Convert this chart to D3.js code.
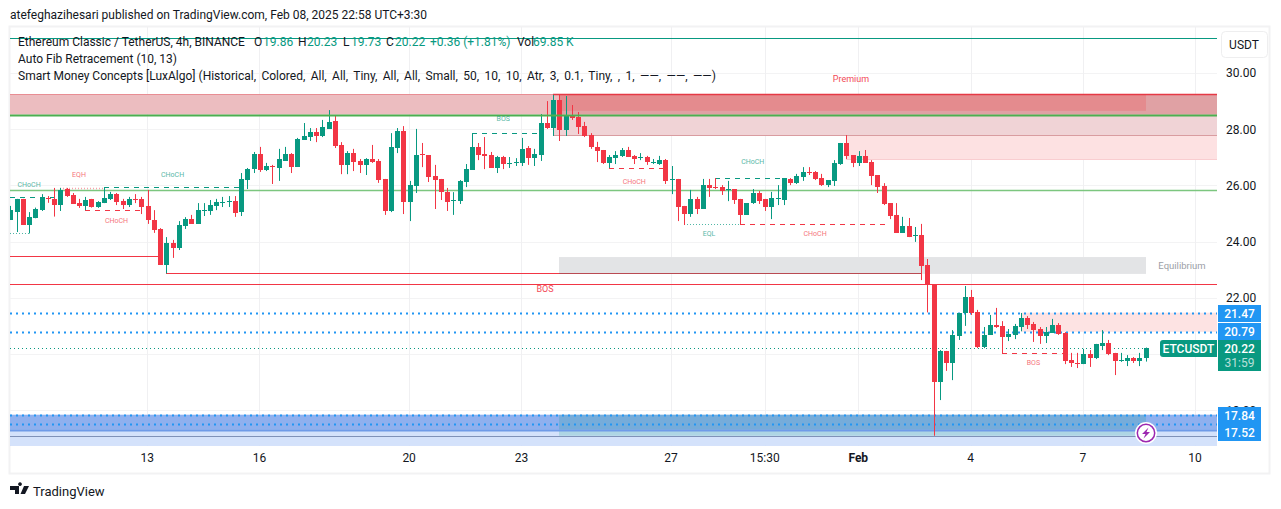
<!DOCTYPE html>
<html>
<head>
<meta charset="utf-8">
<script src="https://cdnjs.cloudflare.com/ajax/libs/d3/7.8.5/d3.min.js"></script>
<style>
  html, body { margin: 0; background: #fff; }
  svg { display: block; }
  text { font-family: Roboto, sans-serif; }
</style>
</head>
<body>
<div id="chart"></div>
<script>
// 4h candles, left to right
var opens = [24.77,25.04,25.52,24.59,24.84,25.11,25.56,25.52,25.30,25.87,25.66,25.37,25.27,25.52,25.23,25.37,25.52,25.69,25.44,25.30,25.52,25.52,25.27,24.77,24.45,23.17,23.95,23.77,24.55,24.80,24.63,25.10,25.09,25.27,25.39,25.42,25.44,25.05,26.19,26.58,27.12,26.55,26.69,26.62,26.87,27.12,26.66,27.62,27.72,27.90,27.76,28.01,28.29,27.44,26.73,27.15,26.87,26.73,26.94,26.87,26.23,25.09,27.33,27.94,25.41,25.98,27.12,27.08,26.33,26.23,25.76,25.44,25.44,26.12,26.55,27.37,27.12,27.08,26.62,27.01,26.76,26.80,26.80,27.33,26.97,27.08,28.22,28.04,29.04,27.97,28.47,28.43,28.11,27.79,27.37,27.26,26.80,26.97,27.05,27.26,27.05,26.99,27.01,26.81,26.76,26.90,26.20,26.23,25.27,24.98,25.52,25.16,26.01,25.93,25.94,25.85,25.87,25.52,24.95,25.37,25.73,25.52,25.23,25.53,25.48,26.23,26.08,26.30,26.48,26.48,26.26,26.01,26.16,26.76,27.51,27.08,26.80,27.05,26.83,26.37,25.98,25.37,24.95,24.31,24.55,24.21,24.23,23.17,22.48,19.00,20.11,19.68,20.64,21.46,22.03,21.49,20.25,20.68,21.03,21.00,20.60,20.68,20.96,21.28,21.07,20.89,20.64,20.75,21.03,20.75,19.79,19.68,19.64,20.00,19.86,20.28,20.39,20.04,19.76,19.75,19.86,19.75,19.86];
var highs = [25.27,25.52,25.52,25.05,25.21,25.69,25.62,25.91,25.91,25.91,25.73,25.52,25.59,25.52,25.44,25.93,25.77,25.73,25.52,25.59,25.69,25.59,25.84,25.12,24.48,24.16,24.06,24.73,24.87,24.95,25.37,25.37,25.48,25.52,25.59,25.62,25.62,26.44,26.62,27.19,27.37,26.80,26.73,27.30,27.37,27.15,27.69,28.22,28.04,28.04,28.33,28.68,28.50,27.54,27.22,27.30,26.94,26.97,27.44,26.94,26.23,27.86,28.04,28.11,26.16,28.01,27.51,27.08,26.73,26.23,25.91,25.76,26.19,26.76,27.86,27.51,27.72,27.19,27.05,27.05,27.01,26.97,27.69,27.40,27.30,28.54,29.00,29.22,29.22,29.18,28.86,28.61,28.26,27.86,27.55,27.26,27.08,27.22,27.33,27.37,27.08,27.15,27.05,26.94,27.05,26.94,26.69,26.23,25.27,25.84,25.59,26.23,26.23,26.26,26.01,26.16,25.87,25.52,25.37,25.87,25.80,25.52,25.77,26.01,26.25,26.26,26.41,26.65,26.65,26.51,26.41,26.19,26.90,27.51,27.79,27.08,27.22,27.26,26.90,26.37,26.08,25.37,25.37,24.88,24.84,24.52,24.63,23.38,22.48,20.14,20.11,20.85,21.46,22.42,22.28,21.57,20.96,21.39,21.64,21.17,20.89,21.07,21.46,21.35,21.14,20.96,20.96,21.25,21.10,20.78,20.04,20.04,20.18,20.14,20.36,20.85,20.50,20.04,20.04,19.96,19.89,20.04,20.23];
var lows = [24.77,24.34,24.59,24.29,24.83,25.09,25.38,24.89,25.09,25.59,25.34,25.20,25.12,25.21,25.20,25.37,25.48,25.30,25.16,25.23,25.37,24.98,24.63,24.31,23.17,22.87,23.42,23.70,24.45,24.63,24.63,24.91,24.95,25.12,25.23,25.23,24.88,24.91,25.87,26.44,26.48,26.51,26.05,26.16,26.87,26.44,26.66,27.62,27.58,27.54,27.72,28.01,27.33,26.40,26.40,26.51,26.44,26.37,26.80,26.09,24.95,25.05,27.15,24.98,24.73,25.73,26.65,26.12,25.16,25.48,25.09,24.95,25.34,25.94,26.55,26.90,26.58,26.62,26.44,26.58,26.62,26.69,26.69,26.73,26.69,26.87,28.01,27.76,27.58,27.76,28.33,27.83,27.72,27.30,26.83,26.76,26.62,26.76,27.01,27.01,26.76,26.90,26.73,26.76,26.73,26.05,25.69,24.73,24.59,24.88,24.98,25.16,25.59,25.87,25.66,25.44,25.34,24.59,24.95,25.34,25.34,25.09,24.80,25.30,25.30,26.01,26.05,26.16,26.37,26.19,25.98,25.94,25.98,26.73,26.94,26.65,26.69,26.80,26.01,25.73,25.30,24.80,24.31,24.31,24.16,23.99,22.63,21.48,17.09,18.36,19.40,19.07,20.50,21.00,21.39,20.21,20.21,20.68,20.93,20.02,20.46,20.53,20.81,20.89,20.43,20.36,20.39,20.75,20.68,19.64,19.54,19.50,19.64,19.54,19.82,20.14,19.96,19.25,19.72,19.57,19.68,19.57,19.73];
var closes = [25.12,25.52,24.59,24.89,25.16,25.55,25.52,25.30,25.84,25.62,25.34,25.27,25.48,25.23,25.41,25.55,25.69,25.41,25.30,25.52,25.49,25.23,24.77,24.41,23.17,23.95,23.77,24.59,24.80,24.63,25.12,25.12,25.30,25.41,25.41,25.44,25.02,26.23,26.58,27.12,26.55,26.69,26.67,26.94,27.12,26.66,27.65,27.76,27.90,27.76,28.08,28.26,27.40,26.73,27.15,26.83,26.73,26.94,26.83,26.19,25.09,27.37,27.94,25.41,26.01,27.08,27.09,26.30,26.19,25.76,25.41,25.48,26.16,26.58,27.37,27.08,27.05,26.62,27.01,26.76,26.80,26.83,27.30,26.97,27.12,28.22,28.04,29.04,27.97,28.47,28.40,28.08,27.76,27.37,27.22,26.80,27.01,27.08,27.26,27.01,26.94,27.01,26.83,26.83,26.90,26.16,26.23,25.23,24.98,25.52,25.16,26.01,25.91,25.91,25.80,25.87,25.48,24.95,25.37,25.73,25.44,25.23,25.55,25.55,26.25,26.08,26.33,26.48,26.45,26.23,26.01,26.19,26.80,27.51,27.05,26.80,27.05,26.80,26.33,25.94,25.34,24.91,24.31,24.55,24.16,24.23,23.13,22.48,19.00,20.11,19.68,20.68,21.46,22.03,21.46,20.25,20.68,21.03,20.96,20.60,20.71,21.00,21.28,21.03,20.85,20.64,20.78,21.03,20.71,19.75,19.68,19.66,20.00,19.86,20.36,20.39,20.00,19.75,19.79,19.86,19.75,19.86,20.22];

var priceTicks = [30, 28, 26, 24, 22, 20, 18];
var priceTickLabels = [30, 28, 26, 24, 22, 18];
var timeTickBars = [22, 40, 64, 82, 106, 121, 136, 154, 172, 190];
var timeTickLabels = ["13", "16", "20", "23", "27", "15:30", "Feb", "4", "7", "10"];

// zones: first bar, last bar, top price, bottom price (null = runs to the pane edge)
var pinkZones = [[null, null, 29.25, 28.52], [87, null, 28.52, 27.78], [134, null, 27.78, 26.94], [162, null, 21.47, 20.79]];
var darkZone = [88, 182, 29.25, 28.65];
var darkZoneRight = [182, null, 29.25, 28.52];
var equilibriumZone = [88, 182, 23.45, 22.85];
var demandZone = [null, null, 17.84, 17.30];
var demandZoneLow = [null, null, 17.30, 16.74];
var tealZone = [88, 182, 17.84, 17.09];

// levels: first bar, last bar, price
var redLevels = [[null, 24, 23.47], [25, 146, 22.87], [null, null, 22.48]];
var blueDotted = [21.47, 20.79, 17.84, 17.52];
var fibLevels = [25.84];
var dashedGreen = [[null, 7, 25.58], [15, 37, 25.93], [74, 85, 27.86], [113, 124, 26.25]];
var dashedRed = [[12, 21, 25.12], [96, 105, 26.62], [117, 141, 24.62], [159, 169, 20.02]];
var dottedGreen = [[null, 3, 24.29], [108, 117, 24.62]];
var dottedRed = [[8, 15, 25.91]];

// tiny marker labels: text, bar, price
var greenTags = [["CHoCH", 3, 25.95], ["CHoCH", 26, 26.3], ["BOS", 79, 28.28], ["CHoCH", 119, 26.75], ["EQL", 112, 24.2]];
var redTags = [["EQH", 11, 26.3], ["CHoCH", 17, 24.65], ["CHoCH", 100, 26.05], ["CHoCH", 129, 24.2], ["BOS", 164, 19.6]];

var width = 1281, height = 509;
var paneLeft = 10, paneRight = 1217, paneTop = 27, paneBottom = 445.6;
var GREEN = "#089981", RED = "#f23645", BLUE = "#2196f3";

var svg = d3.select("#chart").append("svg").attr("width", width).attr("height", height);
var x = d3.scaleLinear().domain([0, 182]).range([10.4, 1145.7]);
var y = d3.scaleLinear().domain([30, 18]).range([73, 410.2]);

function px(bar, edge) { return bar === null ? edge : Math.round(x(bar)); }
function py(p) { return Math.round(y(p)); }

svg.append("defs").append("clipPath").attr("id", "pane").append("rect")
  .attr("x", paneLeft).attr("y", paneTop).attr("width", paneRight - paneLeft).attr("height", paneBottom - paneTop);

// frame
svg.append("rect").attr("x", 9.5).attr("y", 26.5).attr("width", 1260).attr("height", 447)
  .attr("fill", "#fff").attr("stroke", "#f2f2f3").attr("stroke-width", 2);

var pane = svg.append("g").attr("clip-path", "url(#pane)");

// grid
pane.selectAll(".gh").data(priceTicks).enter().append("line")
  .attr("x1", paneLeft).attr("x2", paneRight)
  .attr("y1", function(d) { return py(d) + 0.5; }).attr("y2", function(d) { return py(d) + 0.5; })
  .attr("stroke", "#f3f3f4");
pane.selectAll(".gv").data(timeTickBars).enter().append("line")
  .attr("x1", function(d) { return Math.floor(x(d)) + 0.5; }).attr("x2", function(d) { return Math.floor(x(d)) + 0.5; })
  .attr("y1", paneTop).attr("y2", paneBottom)
  .attr("stroke", "#f0f0f2");

function zone(z, fill) {
  var x1 = px(z[0], paneLeft), x2 = px(z[1], paneRight);
  return pane.append("rect").attr("x", x1).attr("width", x2 - x1)
    .attr("y", y(z[2])).attr("height", y(z[3]) - y(z[2])).attr("fill", fill);
}
function level(l, color, w, dash) {
  var ly = py(l[2]) + 0.5;
  return pane.append("line").attr("x1", px(l[0], paneLeft)).attr("x2", px(l[1], paneRight))
    .attr("y1", ly).attr("y2", ly).attr("stroke", color).attr("stroke-width", w || 1)
    .attr("stroke-dasharray", dash || null);
}

// zones
zone(pinkZones[0], "#ecbdc0");
zone(pinkZones[1], "#f0d3d6");
zone(pinkZones[2], "#fde1e2");
zone(pinkZones[3], "#fde3e3");
zone(darkZone, "#e48b8e");
zone(darkZoneRight, "#e0a1a4");
zone([88, 182, 28.65, 28.52], "#e0a1a4");
zone(equilibriumZone, "#e3e4e6");
zone(demandZone, "#8fb0ee");
zone(demandZoneLow, "#d4e2fb");
zone(tealZone, "rgba(8,153,129,0.18)");

// zone edges
level([null, 87, 29.25], "#e88d93");
level([87, null, 29.25], "#e53945", 1.5);
level([87, null, 27.78], "#d99ca0");
level([134, null, 26.94], "#f9cdd0");
level([null, null, 17.30], "#6f9be8", 2);
level([null, null, 17.07], "#8092b8");
level([null, null, 16.77], "#b7cdf7");

fibLevels.forEach(function(p) { level([null, null, p], "#7cc67f", 1.5); });
level([null, null, 31.23], GREEN);

redLevels.forEach(function(l) { level(l, RED); });
level([88, 146, 22.87], "#b94a52");

blueDotted.forEach(function(p) { level([null, null, p], BLUE, 2, "2 4"); });
level([null, 182, 20.22], GREEN, 1, "1 3");

dashedGreen.forEach(function(l) { level(l, GREEN, 1, "5 5"); });
dashedRed.forEach(function(l) { level(l, RED, 1, "5 5"); });
dottedGreen.forEach(function(l) { level(l, GREEN, 1, "1 2").attr("opacity", 0.7); });
dottedRed.forEach(function(l) { level(l, RED, 1.5, "1 2").attr("opacity", 0.45); });

// candles
var bars = d3.range(opens.length);
function color(i) { return closes[i] >= opens[i] ? GREEN : RED; }
pane.append("g").selectAll("line").data(bars).enter().append("line")
  .attr("x1", function(i) { return Math.round(x(i)) + 0.5; })
  .attr("x2", function(i) { return Math.round(x(i)) + 0.5; })
  .attr("y1", function(i) { return y(highs[i]); })
  .attr("y2", function(i) { return y(lows[i]); })
  .attr("stroke", color);
pane.append("g").selectAll("rect").data(bars).enter().append("rect")
  .attr("x", function(i) { return Math.round(x(i)) - 2; })
  .attr("width", 5)
  .attr("y", function(i) { return Math.round(y(Math.max(opens[i], closes[i]))); })
  .attr("height", function(i) { return Math.max(1, Math.round(Math.abs(y(opens[i]) - y(closes[i])))); })
  .attr("fill", color);

// fib line at the top of the range sits over the candles
level([null, null, 28.52], "#4caf50", 2);

// tags
function tags(list, fill) {
  pane.selectAll(null).data(list).enter().append("text")
    .attr("x", function(d) { return x(d[1]); }).attr("y", function(d) { return y(d[2]); })
    .attr("text-anchor", "middle").attr("font-size", 7).attr("fill", fill).attr("opacity", 0.7)
    .text(function(d) { return d[0]; });
}
tags(greenTags, GREEN);
tags(redTags, RED);
pane.append("text").attr("x", 851).attr("y", 81.5).attr("text-anchor", "middle").attr("font-size", 9).attr("fill", RED).attr("opacity", 0.9).text("Premium");
pane.append("text").attr("x", 545).attr("y", 291.5).attr("text-anchor", "middle").attr("font-size", 9).attr("fill", RED).attr("opacity", 0.9).text("BOS");
pane.append("text").attr("x", 1182).attr("y", 269).attr("text-anchor", "middle").attr("font-size", 9.5).attr("fill", "#9b9ea6").text("Equilibrium");

// bolt badge
var bolt = svg.append("g").attr("transform", "translate(1146,433)");
bolt.append("circle").attr("r", 11).attr("fill", "#fff");
bolt.append("circle").attr("r", 8.7).attr("fill", "#fff").attr("stroke", "#9c27b0").attr("stroke-width", 1.5);
bolt.append("path").attr("d", "M2.5,-5.5 L-4,1 L-0.5,1 L-2.5,5.5 L4,-1 L0.5,-1 Z").attr("fill", "#9c27b0");

// axes
var priceAxis = d3.axisRight(y).tickValues(priceTickLabels).tickSize(0).tickPadding(0).tickFormat(d3.format(".2f"));
var gPrice = svg.append("g").attr("transform", "translate(1226,0)").call(priceAxis);
gPrice.select(".domain").remove();
gPrice.selectAll("text").attr("font-size", 12).attr("fill", "#131722").attr("font-family", "Roboto, sans-serif");

var timeAxis = d3.axisBottom(x).tickValues(timeTickBars).tickSize(0).tickPadding(0)
  .tickFormat(function(d, i) { return timeTickLabels[i]; });
var gTime = svg.append("g").attr("transform", "translate(-1,453)").call(timeAxis);
gTime.select(".domain").remove();
gTime.selectAll("text").attr("font-size", 12).attr("fill", "#131722").attr("font-family", "Roboto, sans-serif")
  .attr("font-weight", function(d, i) { return timeTickLabels[i] === "Feb" ? 700 : 400; });

// price labels, pushed apart so they do not collide
var labelTexts = ["21.47", "20.79", "17.84", "17.52"];
var labelCentres = [313.5, 331.5, 415.5, 432.5];
labelTexts.forEach(function(t, i) {
  var c = labelCentres[i];
  svg.append("rect").attr("x", 1218).attr("y", c - 8.5).attr("width", 43).attr("height", 17).attr("fill", BLUE);
  svg.append("text").attr("x", 1239.5).attr("y", c + 4.5).attr("text-anchor", "middle").attr("font-size", 12).attr("font-weight", 500).attr("fill", "#fff").text(t);
});
svg.append("rect").attr("x", 1218).attr("y", 340).attr("width", 43).attr("height", 31).attr("fill", GREEN);
svg.append("text").attr("x", 1239.5).attr("y", 353).attr("text-anchor", "middle").attr("font-size", 12).attr("font-weight", 500).attr("fill", "#fff").text("20.22");
svg.append("text").attr("x", 1239.5).attr("y", 367).attr("text-anchor", "middle").attr("font-size", 12).attr("fill", "#fff").attr("opacity", 0.7).text("31:59");
svg.append("path").attr("d", "M1217,340 H1163 a3,3 0 0 0 -3,3 V354 a3,3 0 0 0 3,3 H1217 Z").attr("fill", GREEN);
svg.append("text").attr("x", 1188.5).attr("y", 353).attr("text-anchor", "middle").attr("font-size", 12).attr("font-weight", 500).attr("fill", "#fff").text("ETCUSDT");

// currency button
svg.append("rect").attr("x", 1221.5).attr("y", 31.5).attr("width", 46).attr("height", 26).attr("rx", 4).attr("fill", "#fff").attr("stroke", "#eeeeef");
svg.append("text").attr("x", 1244).attr("y", 49).attr("text-anchor", "middle").attr("font-size", 12).attr("fill", "#131722").text("USDT");

// header and legend
var INK = "#131722";
svg.append("text").attr("x", 10).attr("y", 19).attr("font-size", 12).attr("fill", INK)
  .text("atefeghazihesari published on TradingView.com, Feb 08, 2025 22:58 UTC+3:30");
var legend = svg.append("text").attr("x", 18).attr("y", 46).attr("font-size", 12).attr("fill", INK);
legend.append("tspan").text("Ethereum Classic / TetherUS, 4h, BINANCE");
[["O", "19.86", 254], ["H", "20.23", 298], ["L", "19.73", 343], ["C", "20.22", 386]].forEach(function(d) {
  svg.append("text").attr("x", d[2]).attr("y", 46).attr("font-size", 12).attr("fill", INK).text(d[0]);
  svg.append("text").attr("x", d[2] + (d[0] === "L" ? 8 : 9)).attr("y", 46).attr("font-size", 12).attr("fill", GREEN).text(d[1]);
});
svg.append("text").attr("x", 430).attr("y", 46).attr("font-size", 12).attr("fill", GREEN).text("+0.36 (+1.81%)");
svg.append("text").attr("x", 517).attr("y", 46).attr("font-size", 12).attr("fill", INK).text("Vol");
svg.append("text").attr("x", 533).attr("y", 46).attr("font-size", 12).attr("fill", GREEN).text("69.85 K");
svg.append("text").attr("x", 18).attr("y", 63).attr("font-size", 12).attr("fill", INK).text("Auto Fib Retracement (10, 13)");
var smc = svg.append("text").attr("x", 18).attr("y", 80).attr("font-size", 12).attr("fill", INK);
smc.append("tspan").text("Smart Money Concepts [LuxAlgo] ");
smc.append("tspan").attr("word-spacing", 2.4)
  .text("(Historical, Colored, All, All, Tiny, All, All, Small, 50, 10, 10, Atr, 3, 0.1, Tiny, , 1, ——, ——, ——)");

// logo
svg.append("path").attr("d", "M10,486 H19 V494 H15 V490 H10 Z M20,486 a1.9,1.9 0 1 1 0.01,0 Z M24,486 H29 L25,494 H20.5 Z").attr("fill", "#131722");
svg.append("text").attr("x", 33).attr("y", 496).attr("font-size", 13).attr("fill", "#131722").text("TradingView");
</script>
</body>
</html>
